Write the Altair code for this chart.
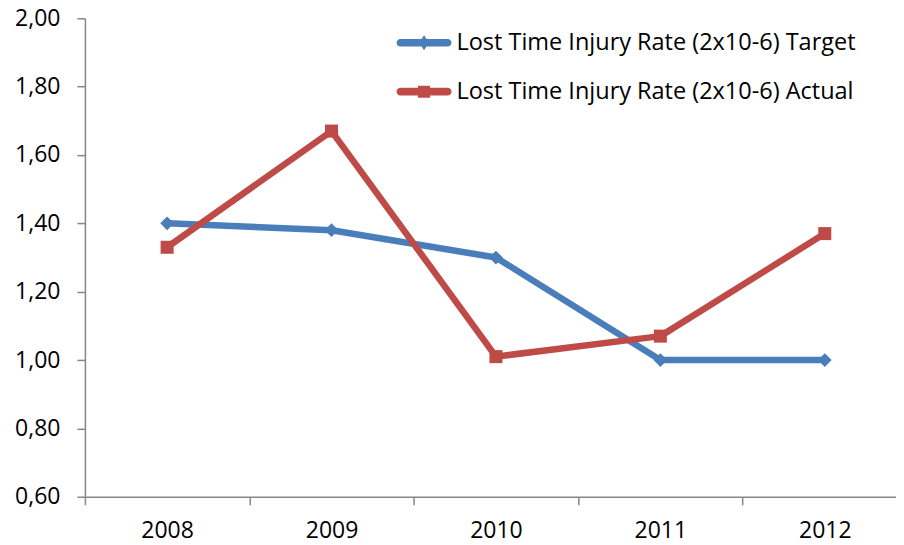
import altair as alt
import pandas as pd

years = [2008, 2009, 2010, 2011, 2012]
target = [1.40, 1.38, 1.30, 1.00, 1.00]
actual = [1.33, 1.67, 1.01, 1.07, 1.37]
series_names = ["Lost Time Injury Rate (2x10-6) Target",
                "Lost Time Injury Rate (2x10-6) Actual"]
series_colors = ["#4A7EBB", "#BE4B48"]
y_ticks = [0.6, 0.8, 1.0, 1.2, 1.4, 1.6, 1.8, 2.0]

df = pd.DataFrame({
    "year": years * 2,
    "value": target + actual,
    "series": [series_names[0]] * 5 + [series_names[1]] * 5,
})

FONT = "Open Sans"
W, H = 812, 479
band = 164.6
x_dom = [2007.5, 2007.5 + W / band]

x_enc = alt.X("year:Q",
              scale=alt.Scale(domain=x_dom, nice=False, zero=False),
              axis=alt.Axis(values=years, format="d", title=None,
                            tickOffset=-band / 2, labelOffset=band / 2,
                            tickSize=8, labelPadding=15, grid=False))
y_enc = alt.Y("value:Q",
              scale=alt.Scale(domain=[0.6, 2.0], nice=False, zero=False),
              axis=alt.Axis(values=y_ticks, title=None, grid=False,
                            labelExpr="replace(format(datum.value, '.2f'), '.', ',')",
                            tickSize=8, labelPadding=17))

layers = []
shapes = ["diamond", "square"]
sizes = [190, 170]
for name, col, shp, sz in zip(series_names, series_colors, shapes, sizes):
    base = alt.Chart(df).transform_filter(alt.datum.series == name)
    layers.append(base.mark_line(color=col, strokeWidth=6.5, strokeCap="round",
                                 strokeJoin="round").encode(x=x_enc, y=y_enc))
    layers.append(base.mark_point(shape=shp, filled=True, size=sz, color=col, opacity=1)
                  .encode(x=x_enc, y=y_enc))

# legend-only layer
bar = ("M-0.86,-0.14L0.86,-0.14A0.14,0.14 0 0 1 0.86,0.14"
       "L-0.86,0.14A0.14,0.14 0 0 1 -0.86,-0.14Z ")
path_target = bar + "M-0.18,0L0,-0.27L0.18,0L0,0.27Z"
path_actual = bar + "M-0.22,-0.22L0.22,-0.22L0.22,0.22L-0.22,0.22Z"
leg = alt.Legend(title=None, orient="none", legendX=312, legendY=-3,
                 symbolSize=55 * 55, symbolStrokeWidth=0, labelFont=FONT,
                 labelFontSize=23.5, labelColor="#000000", labelOffset=5,
                 labelLimit=0, rowPadding=10, padding=0, symbolOpacity=1)
legend_layer = alt.Chart(df).transform_filter("false").mark_point(
    filled=True, opacity=1).encode(
    x=x_enc, y=y_enc,
    color=alt.Color("series:N", scale=alt.Scale(domain=series_names, range=series_colors), legend=leg),
    shape=alt.Shape("series:N", scale=alt.Scale(domain=series_names, range=[path_target, path_actual]), legend=leg),
)
layers.append(legend_layer)

chart = alt.layer(*layers).properties(
    width=W, height=H,
    autosize=alt.AutoSizeParams(type="none"),
    padding={"left": 77, "top": 10, "right": 0, "bottom": 48},
).configure_view(stroke=None).configure_axis(
    domainColor="#868686", domainWidth=1.5, tickColor="#868686", tickWidth=1.5,
    labelFont=FONT, labelFontSize=23, labelColor="#000000",
)

chart.save("out.html", embed_options={"renderer": "svg", "actions": False})
